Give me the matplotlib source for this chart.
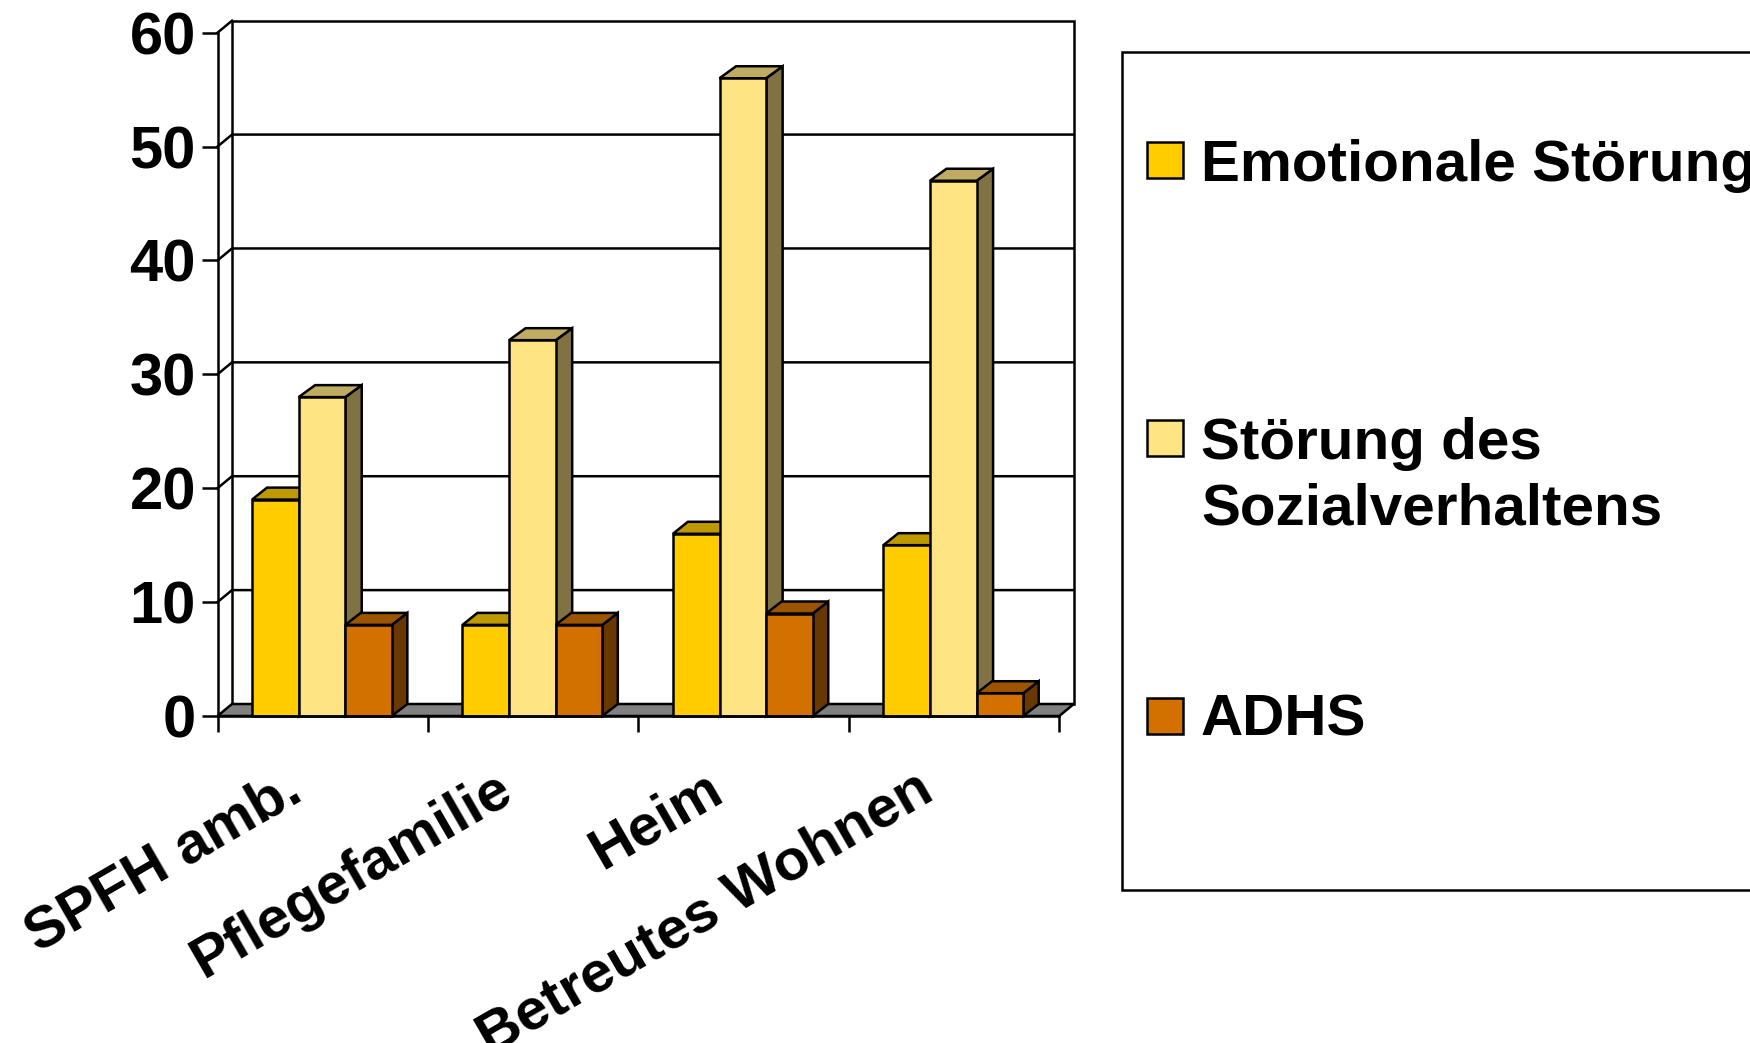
import matplotlib
matplotlib.use('Agg')
import matplotlib.pyplot as plt
from matplotlib.patches import Polygon, Rectangle

plt.rcParams['font.family'] = ['Liberation Sans', 'DejaVu Sans']
plt.rcParams['font.weight'] = 'bold'

categories = ['SPFH amb.', 'Pflegefamilie', 'Heim', 'Betreutes Wohnen']
emotional = [19, 8, 16, 15]
sozial = [28, 33, 56, 47]
adhs = [8, 8, 9, 2]
y_ticks = [0, 10, 20, 30, 40, 50, 60]

front_cols = ['#FFCC00', '#FFE484', '#D27000']
top_cols = ['#BF9900', '#C0AB63', '#9D5400']
side_cols = ['#806600', '#807242', '#693800']

W, H = 1750, 1043
L, R, B, T = 217.5, 1059.3, 716, 32.7   # front plane in pixels
lw = 1.8

fig = plt.figure(figsize=(W/100, H/100), dpi=100)
ax = fig.add_axes([L/W, 1-B/H, (R-L)/W, (B-T)/H])
ax.set_xlim(0, 4)
ax.set_ylim(0, 60)
ax.patch.set_visible(False)

# depth of the fake 3d, px converted to data units
px_x = 4 / (R-L)
px_y = 60 / (B-T)
dx = 14.5 * px_x
dy = 12 * px_y
bar_dx = [15*px_x, 16.5*px_x, 15.5*px_x]

def poly(pts, fc, z):
    ax.add_patch(Polygon(pts, closed=True, fc=fc, ec='black', lw=lw, zorder=z, clip_on=False, joinstyle='miter'))

# back wall, floor
poly([(dx, dy), (dx, 60+dy), (4+dx, 60+dy), (4+dx, dy)], 'white', 1)
poly([(0, 0), (dx, dy), (4+dx, dy), (4, 0)], '#808080', 2)
for v in y_ticks[1:-1]:
    ax.plot([0, dx, 4+dx], [v, v+dy, v+dy], color='black', lw=lw, zorder=1.5, clip_on=False)
ax.plot([0, dx], [60, 60+dy], color='black', lw=lw, zorder=1.5, clip_on=False)

# bars
bw = 0.2215
off = 0.164
z = 3
for i in range(4):
    for j, vals in enumerate([emotional, sozial, adhs]):
        x0 = i + off + j*bw
        x1 = x0 + bw
        v = vals[i]
        d = bar_dx[j]
        poly([(x1, 0), (x1+d, dy), (x1+d, v+dy), (x1, v)], side_cols[j], z)
        poly([(x0, v), (x0+d, v+dy), (x1+d, v+dy), (x1, v)], top_cols[j], z)
        poly([(x0, 0), (x0, v), (x1, v), (x1, 0)], front_cols[j], z+0.5)
        z += 1

# axes
for s in ['top', 'right']:
    ax.spines[s].set_visible(False)
for s in ['left', 'bottom']:
    ax.spines[s].set_linewidth(lw)
    ax.spines[s].set_zorder(50)
ax.set_xticks(range(5))
ax.set_xticklabels([])
ax.set_yticks(y_ticks)
ax.set_yticklabels(y_ticks, fontsize=43, fontweight='bold', va='center_baseline')
ax.tick_params(axis='both', length=11.5, width=lw, color='black')
ax.tick_params(axis='y', pad=4)

for i, c in enumerate(categories):
    ax.annotate(c, xy=(i+0.5, 0), xytext=(-39, -46), textcoords='offset pixels',
                rotation=30, ha='right', va='top', rotation_mode='anchor',
                fontsize=42, fontweight='bold', annotation_clip=False)

# legend, runs off the right edge like the original
lg = fig.add_axes([0, 0, 1, 1])
lg.set_xlim(0, W)
lg.set_ylim(H, 0)
lg.axis('off')
lg.add_patch(Rectangle((1122, 52), 700, 838, fc='white', ec='black', lw=lw))
names = ['Emotionale Störung', 'Störung des\nSozialverhaltens', 'ADHS']
swatch_y = [160, 438, 716]
text_y = [166, 477, 720]
for y, ty, name, c in zip(swatch_y, text_y, names, front_cols):
    lg.add_patch(Rectangle((1147, y-18), 36, 36, fc=c, ec='black', lw=lw))
    lg.text(1201, ty, name, fontsize=42, fontweight='bold', va='center', ha='left', linespacing=1.27)

fig.savefig('out.png', dpi=100)
